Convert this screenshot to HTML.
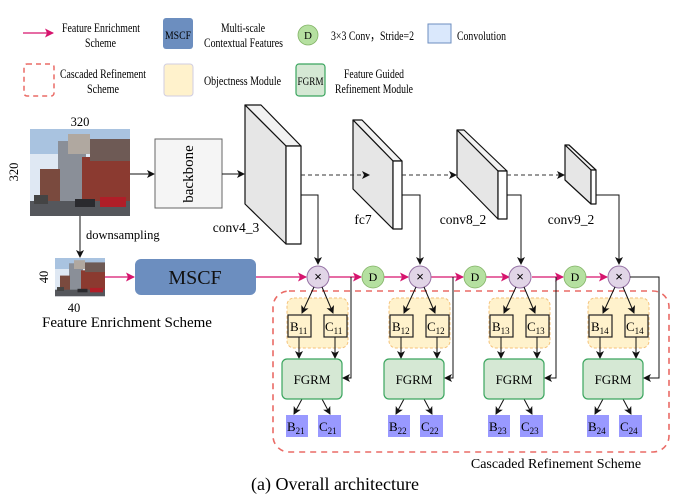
<!DOCTYPE html>
<html><head><meta charset="utf-8"><style>
html,body{margin:0;padding:0;background:#fff;}
svg{display:block;font-family:"Liberation Serif",serif;}
</style></head><body>
<svg width="683" height="497" viewBox="0 0 683 497" xmlns="http://www.w3.org/2000/svg">
<defs>
<marker id="ab" markerWidth="8" markerHeight="8" refX="7" refY="4" orient="auto" markerUnits="userSpaceOnUse"><path d="M0,0 L8,4 L0,8 L2,4 Z" fill="#111"/></marker>
<marker id="ap" markerWidth="9" markerHeight="9" refX="8" refY="4.5" orient="auto" markerUnits="userSpaceOnUse"><path d="M0,0 L9,4.5 L0,9 L2,4.5 Z" fill="#d6146e"/></marker>
<g id="photo">
<rect x="0" y="0" width="100" height="87" fill="#dfe8f3"/>
<rect x="0" y="0" width="100" height="25" fill="#a9c3e0"/>
<rect x="28" y="12" width="28" height="65" fill="#8a8f98"/>
<rect x="38" y="5" width="22" height="20" fill="#b0a8a0"/>
<rect x="52" y="28" width="48" height="52" fill="#8b3a30"/>
<rect x="60" y="10" width="40" height="22" fill="#6e5a55"/>
<rect x="10" y="40" width="20" height="40" fill="#7a4a3e"/>
<rect x="0" y="72" width="100" height="15" fill="#55575c"/>
<rect x="4" y="66" width="14" height="9" fill="#444"/>
<rect x="70" y="68" width="26" height="10" fill="#b01e28"/>
<rect x="45" y="70" width="20" height="8" fill="#2a2a2e"/>
</g>
</defs>

<!-- Legend -->
<line x1="23" y1="33" x2="53" y2="33" stroke="#d6146e" stroke-width="1.3" marker-end="url(#ap)"/>
<g font-size="13">
<text x="62" y="32" textLength="78" lengthAdjust="spacingAndGlyphs">Feature Enrichment</text>
<text x="85" y="47" textLength="31" lengthAdjust="spacingAndGlyphs">Scheme</text>
<text x="221" y="32" textLength="44" lengthAdjust="spacingAndGlyphs">Multi-scale</text>
<text x="204" y="47" textLength="79" lengthAdjust="spacingAndGlyphs">Contextual Features</text>
<text x="331" y="40" textLength="83" lengthAdjust="spacingAndGlyphs">3×3 Conv，Stride=2</text>
<text x="457" y="40" textLength="49" lengthAdjust="spacingAndGlyphs">Convolution</text>
<text x="60" y="78" textLength="86" lengthAdjust="spacingAndGlyphs">Cascaded Refinement</text>
<text x="87" y="93" textLength="32" lengthAdjust="spacingAndGlyphs">Scheme</text>
<text x="204" y="85" textLength="77" lengthAdjust="spacingAndGlyphs">Objectness Module</text>
<text x="344" y="78" textLength="60" lengthAdjust="spacingAndGlyphs">Feature Guided</text>
<text x="335" y="93" textLength="78" lengthAdjust="spacingAndGlyphs">Refinement Module</text>
</g>
<rect x="163" y="18" width="30" height="31" rx="3" fill="#6c8ebf"/>
<text x="178" y="39" font-size="12" text-anchor="middle" textLength="26" lengthAdjust="spacingAndGlyphs">MSCF</text>
<circle cx="308" cy="35" r="10" fill="#b5e0a0" stroke="#82b366" stroke-width="0.8"/>
<text x="308" y="39" font-size="11" text-anchor="middle">D</text>
<rect x="428" y="24" width="23" height="19" fill="#dae8fc" stroke="#6c8ebf"/>
<rect x="24" y="64" width="30" height="32" rx="3" fill="none" stroke="#ea6b66" stroke-width="1.5" stroke-dasharray="5,4"/>
<rect x="164" y="64" width="29" height="32" rx="3" fill="#fff2cc" stroke="#d0cee2"/>
<rect x="296" y="64" width="29" height="32" rx="3" fill="#d5e8d4" stroke="#3aa55e" stroke-width="1.2"/>
<text x="310.5" y="85" font-size="12" text-anchor="middle" textLength="26" lengthAdjust="spacingAndGlyphs">FGRM</text>

<!-- Input image -->
<text x="80" y="126" font-size="12.5" text-anchor="middle">320</text>
<text x="18" y="172" font-size="12.5" text-anchor="middle" transform="rotate(-90 18 172)">320</text>
<use href="#photo" transform="translate(30,129)"/>
<line x1="130" y1="174" x2="154" y2="174" stroke="#111" marker-end="url(#ab)"/>
<rect x="155" y="139" width="67" height="69" fill="#f5f5f5" stroke="#666"/>
<text x="193" y="174" font-size="15" text-anchor="middle" transform="rotate(-90 193 174)">backbone</text>
<line x1="222" y1="174" x2="244" y2="174" stroke="#111" marker-end="url(#ab)"/>
<line x1="80" y1="216" x2="80" y2="257" stroke="#111" marker-end="url(#ab)"/>
<text x="86" y="239" font-size="12.5">downsampling</text>
<use href="#photo" transform="translate(55,258) scale(0.5,0.44)"/>
<text x="48" y="277" font-size="12.5" text-anchor="middle" transform="rotate(-90 48 277)">40</text>
<text x="74" y="312" font-size="12.5" text-anchor="middle">40</text>
<text x="127" y="327" font-size="15" text-anchor="middle">Feature Enrichment Scheme</text>
<line x1="105" y1="277" x2="134" y2="277" stroke="#d6146e" stroke-width="1.3" marker-end="url(#ap)"/>
<rect x="135" y="259" width="121" height="36" rx="6" fill="#6c8ebf"/>
<text x="195" y="284" font-size="20" text-anchor="middle" fill="#111">MSCF</text>

<!-- Feature blocks -->
<g stroke="#111" stroke-width="1.2" stroke-linejoin="round">
<polygon points="245,105 261,105 301,146 286,146" fill="#f2f2f2"/>
<polygon points="245,105 286,146 286,244 245,204" fill="#e6e6e6"/>
<rect x="286" y="146" width="15" height="98" fill="#fff"/>
<polygon points="353,120 362,120 402,161 393,161" fill="#f2f2f2"/>
<polygon points="353,120 393,161 393,229 353,189" fill="#e6e6e6"/>
<rect x="393" y="161" width="9" height="68" fill="#fff"/>
<polygon points="457,130 464,130 507,171 498,171" fill="#f2f2f2"/>
<polygon points="457,130 498,171 498,219 457,177" fill="#e6e6e6"/>
<rect x="498" y="171" width="9" height="48" fill="#fff"/>
<polygon points="565,145 569,145 596,170 591,170" fill="#f2f2f2"/>
<polygon points="565,145 591,170 591,204 565,180" fill="#e6e6e6"/>
<rect x="591" y="170" width="5" height="34" fill="#fff"/>
</g>
<text x="236" y="232" font-size="13.5" text-anchor="middle">conv4_3</text>
<text x="363" y="224" font-size="13.5" text-anchor="middle">fc7</text>
<text x="463" y="224" font-size="13.5" text-anchor="middle">conv8_2</text>
<text x="571" y="224" font-size="13.5" text-anchor="middle">conv9_2</text>
<g stroke="#333" stroke-dasharray="4,3" fill="none">
<line x1="301" y1="175" x2="369" y2="175" marker-end="url(#ab)"/>
<line x1="402" y1="175" x2="456" y2="175" marker-end="url(#ab)"/>
<line x1="507" y1="175" x2="564" y2="175" marker-end="url(#ab)"/>
</g>
<g stroke="#111" fill="none">
<polyline points="301,195 318,195 318,264" marker-end="url(#ab)"/>
<polyline points="402,195 420,195 420,264" marker-end="url(#ab)"/>
<polyline points="507,195 521,195 521,264" marker-end="url(#ab)"/>
<polyline points="596,195 619,195 619,264" marker-end="url(#ab)"/>
</g>

<!-- cascaded box -->
<rect x="273" y="291" width="396" height="161" rx="16" fill="none" stroke="#ea6b66" stroke-width="1.6" stroke-dasharray="6,5"/>

<!-- pink main line -->
<g stroke="#d6146e" stroke-width="1.3" fill="none">
<line x1="256" y1="277" x2="306" y2="277" marker-end="url(#ap)"/>
<line x1="329" y1="277" x2="361" y2="277" marker-end="url(#ap)"/>
<line x1="384" y1="277" x2="408" y2="277" marker-end="url(#ap)"/>
<line x1="431" y1="277" x2="463" y2="277" marker-end="url(#ap)"/>
<line x1="486" y1="277" x2="509" y2="277" marker-end="url(#ap)"/>
<line x1="532" y1="277" x2="563" y2="277" marker-end="url(#ap)"/>
<line x1="586" y1="277" x2="607" y2="277" marker-end="url(#ap)"/>
</g>
<g fill="#b5e0a0" stroke="#82b366" stroke-width="0.8">
<circle cx="373" cy="277" r="11"/><circle cx="475" cy="277" r="11"/><circle cx="575" cy="277" r="11"/>
</g>
<g font-size="12" text-anchor="middle"><text x="373" y="281">D</text><text x="475" y="281">D</text><text x="575" y="281">D</text></g>

<!-- stages -->
<g id="stage">
<circle cx="318" cy="277" r="11" fill="#e1d5e7" stroke="#9673a6"/>
<text x="318" y="281" font-size="13" text-anchor="middle" font-family="Liberation Sans">×</text>
<rect x="287" y="298" width="61" height="50" rx="7" fill="#fff2cc" stroke="#f5c27a" stroke-dasharray="3,2"/>
<g stroke="#111" fill="none">
<line x1="314" y1="287" x2="302" y2="313" marker-end="url(#ab)"/>
<line x1="322" y1="287" x2="333" y2="313" marker-end="url(#ab)"/>
<line x1="299" y1="337" x2="299" y2="358" marker-end="url(#ab)"/>
<line x1="335" y1="337" x2="335" y2="358" marker-end="url(#ab)"/>
<line x1="302" y1="399" x2="294" y2="414" marker-end="url(#ab)"/>
<line x1="322" y1="399" x2="330" y2="414" marker-end="url(#ab)"/>
</g>
<rect x="288" y="315" width="23" height="22" fill="#fff2cc" stroke="#222" stroke-width="1.2"/>
<rect x="324" y="315" width="23" height="22" fill="#fff2cc" stroke="#222" stroke-width="1.2"/>
<rect x="282" y="359" width="60" height="40" rx="5" fill="#d5e8d4" stroke="#3aa55e" stroke-width="1.2"/>
<text x="312" y="384" font-size="13" text-anchor="middle">FGRM</text>
<rect x="286" y="415" width="22" height="22" fill="#9999ff"/>
<rect x="318" y="415" width="23" height="22" fill="#9999ff"/>
</g>
<g font-size="13">
<text x="290" y="331">B<tspan font-size="9" dy="3">11</tspan></text>
<text x="325" y="331">C<tspan font-size="9" dy="3">11</tspan></text>
<text x="287" y="431">B<tspan font-size="9" dy="3">21</tspan></text>
<text x="319" y="431">C<tspan font-size="9" dy="3">21</tspan></text>
</g>
<use href="#stage" transform="translate(102,0)"/>
<use href="#stage" transform="translate(202,0)"/>
<use href="#stage" transform="translate(301,0)"/>
<g font-size="13">
<text x="392" y="331">B<tspan font-size="9" dy="3">12</tspan></text>
<text x="427" y="331">C<tspan font-size="9" dy="3">12</tspan></text>
<text x="389" y="431">B<tspan font-size="9" dy="3">22</tspan></text>
<text x="421" y="431">C<tspan font-size="9" dy="3">22</tspan></text>
<text x="492" y="331">B<tspan font-size="9" dy="3">13</tspan></text>
<text x="527" y="331">C<tspan font-size="9" dy="3">13</tspan></text>
<text x="489" y="431">B<tspan font-size="9" dy="3">23</tspan></text>
<text x="521" y="431">C<tspan font-size="9" dy="3">23</tspan></text>
<text x="591" y="331">B<tspan font-size="9" dy="3">14</tspan></text>
<text x="626" y="331">C<tspan font-size="9" dy="3">14</tspan></text>
<text x="588" y="431">B<tspan font-size="9" dy="3">24</tspan></text>
<text x="620" y="431">C<tspan font-size="9" dy="3">24</tspan></text>
</g>
<!-- side feeds -->
<g stroke="#111" fill="none">
<polyline points="351,277 351,378 343,378" marker-end="url(#ab)"/>
<polyline points="453,277 453,378 445,378" marker-end="url(#ab)"/>
<polyline points="556,277 556,378 545,378" marker-end="url(#ab)"/>
<polyline points="630,277 659,277 659,378 644,378" marker-end="url(#ab)"/>
</g>

<text x="556" y="468" font-size="14" text-anchor="middle">Cascaded  Refinement Scheme</text>
<text x="335" y="490" font-size="18" text-anchor="middle">(a) Overall architecture</text>
</svg>
</body></html>
